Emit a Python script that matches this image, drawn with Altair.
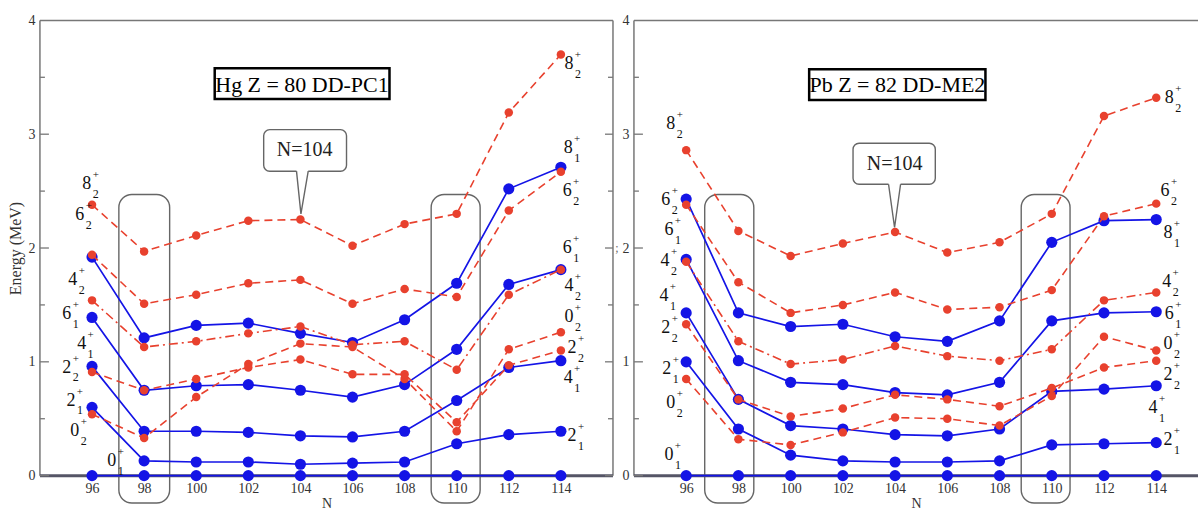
import altair as alt
import pandas as pd

# ---------------- data ----------------
N_VALUES = [96, 98, 100, 102, 104, 106, 108, 110, 112, 114]

# Hg Z = 80 (DD-PC1) -- solid blue (yrast)
HG_0_1 = [0.00, 0.00, 0.00, 0.00, 0.00, 0.00, 0.00, 0.00, 0.00, 0.00]
HG_2_1 = [0.60, 0.13, 0.12, 0.12, 0.10, 0.11, 0.12, 0.28, 0.36, 0.39]
HG_4_1 = [0.96, 0.39, 0.39, 0.38, 0.35, 0.34, 0.39, 0.66, 0.95, 1.01]
HG_6_1 = [1.39, 0.75, 0.79, 0.80, 0.75, 0.69, 0.80, 1.11, 1.68, 1.81]
HG_8_1 = [1.92, 1.21, 1.32, 1.34, 1.25, 1.17, 1.37, 1.69, 2.52, 2.71]
# Hg -- dashed red (second band)
HG_0_2 = [0.54, 0.33, 0.69, 0.98, 1.16, 1.13, 0.85, 0.39, 1.11, 1.26]
HG_2_2 = [0.91, 0.75, 0.85, 0.95, 1.02, 0.89, 0.89, 0.47, 0.97, 1.10]
HG_4_2 = [1.54, 1.13, 1.18, 1.25, 1.31, 1.15, 1.18, 0.93, 1.59, 1.81]
HG_6_2 = [1.94, 1.51, 1.59, 1.69, 1.72, 1.51, 1.64, 1.57, 2.33, 2.67]
HG_8_2 = [2.38, 1.97, 2.11, 2.24, 2.25, 2.02, 2.21, 2.30, 3.19, 3.70]

# Pb Z = 82 (DD-ME2)
PB_0_1 = [0.00, 0.00, 0.00, 0.00, 0.00, 0.00, 0.00, 0.00, 0.00, 0.00]
PB_2_1 = [1.00, 0.41, 0.18, 0.13, 0.12, 0.12, 0.13, 0.27, 0.28, 0.29]
PB_4_1 = [1.43, 0.67, 0.44, 0.41, 0.36, 0.35, 0.41, 0.74, 0.76, 0.79]
PB_6_1 = [1.90, 1.01, 0.82, 0.80, 0.73, 0.71, 0.82, 1.36, 1.43, 1.44]
PB_8_1 = [2.43, 1.43, 1.31, 1.33, 1.22, 1.18, 1.36, 2.05, 2.24, 2.25]
PB_0_2 = [0.85, 0.32, 0.27, 0.38, 0.51, 0.50, 0.44, 0.70, 1.22, 1.10]
PB_2_2 = [1.33, 0.67, 0.52, 0.59, 0.71, 0.67, 0.61, 0.77, 0.95, 1.01]
PB_4_2 = [1.88, 1.18, 0.98, 1.02, 1.14, 1.05, 1.01, 1.11, 1.54, 1.61]
PB_6_2 = [2.38, 1.70, 1.43, 1.50, 1.61, 1.46, 1.48, 1.63, 2.28, 2.39]
PB_8_2 = [2.86, 2.15, 1.93, 2.04, 2.14, 1.96, 2.05, 2.30, 3.16, 3.32]

# state labels: (spin, band index, N position, E position)
HG_LABELS = [
    ("8", "2", 95.80, 2.56), ("6", "2", 95.53, 2.29), ("4", "2", 95.26, 1.72),
    ("6", "1", 95.03, 1.42), ("4", "1", 95.60, 1.16), ("2", "2", 95.03, 0.95),
    ("2", "1", 95.19, 0.66), ("0", "2", 95.34, 0.39), ("0", "1", 96.76, 0.13),
    ("8", "2", 114.31, 3.62), ("8", "1", 114.28, 2.88), ("6", "2", 114.24, 2.50),
    ("6", "1", 114.24, 2.00), ("4", "2", 114.31, 1.67), ("0", "2", 114.31, 1.39),
    ("2", "2", 114.43, 1.12), ("4", "1", 114.28, 0.86), ("2", "1", 114.43, 0.35),
]
PB_LABELS = [
    ("8", "2", 95.41, 3.09), ("6", "2", 95.22, 2.42), ("6", "1", 95.34, 2.16),
    ("4", "2", 95.19, 1.89), ("4", "1", 95.15, 1.58), ("2", "2", 95.22, 1.30),
    ("2", "1", 95.26, 0.94), ("0", "2", 95.41, 0.64), ("0", "1", 95.34, 0.18),
    ("8", "2", 114.50, 3.32), ("6", "2", 114.34, 2.50), ("8", "1", 114.45, 2.13),
    ("4", "2", 114.40, 1.70), ("6", "1", 114.50, 1.42), ("0", "2", 114.45, 1.16),
    ("2", "2", 114.45, 0.88), ("4", "1", 113.88, 0.59), ("2", "1", 114.45, 0.31),
]

X_TICKS = [96, 98, 100, 102, 104, 106, 108, 110, 112, 114]
Y_MAJOR = [0, 1, 2, 3, 4]
Y_MINOR = [0.5, 1.5, 2.5, 3.5]

# ---------------- style ----------------
BLUE = "#1414e6"
RED = "#e8412e"
SERIF = "Liberation Serif"
FRAME = "#777777"


def long_df(named):
    rows = []
    for name, (vals, style) in named.items():
        for n, e in zip(N_VALUES, vals):
            rows.append({"N": n, "E": e, "state": name, "style": style})
    return pd.DataFrame(rows)


def panel(blue, red, labels, title, title_box, title_center, call_box, call_center,
          tail, rects, xmax, width, show_ytitle, right_frame):
    xs = alt.Scale(domain=[94, xmax], nice=False, zero=False)
    ys = alt.Scale(domain=[0, 4], nice=False, zero=False)
    height = 456

    blue_df = long_df(blue)
    red_df = long_df(red)

    xaxis = alt.Axis(values=X_TICKS, ticks=False, domain=False, grid=False, format="d",
                     labelPadding=6, title="N", titlePadding=1)
    yaxis = alt.Axis(values=Y_MAJOR, ticks=False, domain=False, grid=False, format="d",
                     labelPadding=5, title="Energy (MeV)" if show_ytitle else "",
                     titlePadding=4)

    def X(f):
        return alt.X(f, type="quantitative", scale=xs, axis=xaxis)

    def Y(f):
        return alt.Y(f, type="quantitative", scale=ys, axis=yaxis)

    layers = []

    # rounded frames around N=98 and N=110
    rdf = pd.DataFrame([{"x0": a, "x1": b, "y0": 2.47, "y1": -0.24} for a, b in rects])
    layers.append(alt.Chart(rdf).mark_rect(fillOpacity=0, stroke="#666666", strokeWidth=1.4,
                                           cornerRadius=13).encode(
        x=X("x0"), x2="x1", y=Y("y0"), y2="y1"))

    # frame
    fr = [{"x0": 94, "x1": xmax, "y0": 4, "y1": 4}, {"x0": 94, "x1": 94, "y0": 0, "y1": 4}]
    if right_frame:
        fr.append({"x0": xmax, "x1": xmax, "y0": 0, "y1": 4})
    layers.append(alt.Chart(pd.DataFrame(fr)).mark_rule(color=FRAME, strokeWidth=1.5).encode(
        x=X("x0"), x2="x1", y=Y("y0"), y2="y1"))
    layers.append(alt.Chart(pd.DataFrame([{"x0": 94, "x1": xmax, "y0": 0}])).mark_rule(
        color="#555566", strokeWidth=3).encode(x=X("x0"), x2="x1", y=Y("y0")))

    # inward ticks
    maj = pd.DataFrame({"v": Y_MAJOR[:-1]})
    mnr = pd.DataFrame({"v": Y_MINOR})
    layers.append(alt.Chart(maj).mark_rule(color=FRAME, strokeWidth=1.3).encode(
        y=Y("v"), x=alt.value(0), x2=alt.value(9)))
    layers.append(alt.Chart(mnr).mark_rule(color=FRAME, strokeWidth=1.3).encode(
        y=Y("v"), x=alt.value(0), x2=alt.value(5)))
    if right_frame:
        layers.append(alt.Chart(maj).mark_rule(color=FRAME, strokeWidth=1.3).encode(
            y=Y("v"), x=alt.value(width), x2=alt.value(width - 8)))
        layers.append(alt.Chart(mnr).mark_rule(color=FRAME, strokeWidth=1.3).encode(
            y=Y("v"), x=alt.value(width), x2=alt.value(width - 5)))
    else:
        # stray fragment of the neighbouring axis title seen in the source figure
        layers.append(alt.Chart(pd.DataFrame({"v": [2.0], "t": [";"]})).mark_text(
            font=SERIF, fontSize=12, color="#666666").encode(
            y=Y("v"), x=alt.value(-17), text="t:N"))

    # blue (solid) bands
    layers.append(alt.Chart(blue_df).mark_line(color=BLUE, strokeWidth=1.7).encode(
        x=X("N"), y=Y("E"), detail="state:N"))
    layers.append(alt.Chart(blue_df).mark_circle(color=BLUE, size=125, opacity=1).encode(
        x=X("N"), y=Y("E")))

    # red (dashed / dash-dot) bands
    layers.append(alt.Chart(red_df).mark_line(color=RED, strokeWidth=1.6).encode(
        x=X("N"), y=Y("E"), detail="state:N",
        strokeDash=alt.StrokeDash("style:N", legend=None,
                                  scale=alt.Scale(domain=["dash", "dashdot"],
                                                  range=[[8, 5], [9, 4, 2, 4]]))))
    layers.append(alt.Chart(red_df).mark_circle(color=RED, size=72, opacity=1).encode(
        x=X("N"), y=Y("E")))

    # state labels
    ldf = pd.DataFrame([{"spin": s, "band": b, "lx": x, "ly": y} for s, b, x, y in labels])
    layers.append(alt.Chart(ldf).mark_text(font=SERIF, fontSize=18, color="#111111").encode(
        x=X("lx"), y=Y("ly"), text="spin:N"))
    layers.append(alt.Chart(ldf).mark_text(font=SERIF, fontSize=11, color="#111111",
                                           dx=9, dy=-9).encode(
        x=X("lx"), y=Y("ly"), text=alt.value("+")))
    layers.append(alt.Chart(ldf).mark_text(font=SERIF, fontSize=12, color="#111111",
                                           dx=9, dy=10).encode(
        x=X("lx"), y=Y("ly"), text="band:N"))

    # title box
    tb = pd.DataFrame([{"x0": title_box[0], "x1": title_box[1], "y0": title_box[2], "y1": title_box[3],
                        "tx": title_center[0], "ty": title_center[1], "t": title}])
    layers.append(alt.Chart(tb).mark_rect(fill="white", stroke="black", strokeWidth=2.5).encode(
        x=X("x0"), x2="x1", y=Y("y0"), y2="y1"))
    layers.append(alt.Chart(tb).mark_text(font=SERIF, fontSize=22, color="black").encode(
        x=X("tx"), y=Y("ty"), text="t:N"))

    # N=104 callout
    cb = pd.DataFrame([{"x0": call_box[0], "x1": call_box[1], "y0": call_box[2], "y1": call_box[3],
                        "tx": call_center[0], "ty": call_center[1], "t": "N=104"}])
    layers.append(alt.Chart(cb).mark_rect(fill="white", stroke="#666666", strokeWidth=1.4,
                                          cornerRadius=6).encode(
        x=X("x0"), x2="x1", y=Y("y0"), y2="y1"))
    layers.append(alt.Chart(cb).mark_text(font=SERIF, fontSize=20, color="#222222").encode(
        x=X("tx"), y=Y("ty"), text="t:N"))
    gap = pd.DataFrame([{"x0": tail[0], "x1": tail[2], "y0": call_box[3]}])
    layers.append(alt.Chart(gap).mark_rule(color="white", strokeWidth=3).encode(
        x=X("x0"), x2="x1", y=Y("y0")))
    tdf = pd.DataFrame([{"x": tail[0], "y": call_box[3], "o": 0},
                        {"x": tail[1], "y": tail[3], "o": 1},
                        {"x": tail[2], "y": call_box[3], "o": 2}])
    layers.append(alt.Chart(tdf).mark_line(color="#666666", strokeWidth=1.4).encode(
        x=X("x"), y=Y("y"), order="o:Q"))

    return alt.layer(*layers).properties(width=width, height=height)


hg = panel(
    blue={"0_1": (HG_0_1, "solid"), "2_1": (HG_2_1, "solid"), "4_1": (HG_4_1, "solid"),
          "6_1": (HG_6_1, "solid"), "8_1": (HG_8_1, "solid")},
    red={"0_2": (HG_0_2, "dash"), "2_2": (HG_2_2, "dash"), "4_2": (HG_4_2, "dashdot"),
         "6_2": (HG_6_2, "dash"), "8_2": (HG_8_2, "dash")},
    labels=HG_LABELS, title="Hg Z = 80 DD-PC1",
    title_box=(100.71, 107.42, 3.58, 3.31), title_center=(104.06, 3.435),
    call_box=(102.59, 105.77, 3.04, 2.675), call_center=(104.16, 2.86),
    tail=(103.85, 104.02, 104.30, 2.30),
    rects=[(97.03, 98.98), (109.02, 110.90)],
    xmax=116, width=574, show_ytitle=True, right_frame=True)

pb = panel(
    blue={"0_1": (PB_0_1, "solid"), "2_1": (PB_2_1, "solid"), "4_1": (PB_4_1, "solid"),
          "6_1": (PB_6_1, "solid"), "8_1": (PB_8_1, "solid")},
    red={"0_2": (PB_0_2, "dash"), "2_2": (PB_2_2, "dash"), "4_2": (PB_4_2, "dashdot"),
         "6_2": (PB_6_2, "dash"), "8_2": (PB_8_2, "dash")},
    labels=PB_LABELS, title="Pb Z = 82 DD-ME2",
    title_box=(100.71, 107.46, 3.57, 3.30), title_center=(104.09, 3.43),
    call_box=(102.39, 105.54, 2.92, 2.56), call_center=(103.98, 2.74),
    tail=(103.75, 103.98, 104.21, 2.18),
    rects=[(96.71, 98.59), (108.83, 110.70)],
    xmax=115.6, width=565, show_ytitle=False, right_frame=False)

chart = alt.hconcat(hg, pb, spacing=21, bounds="flush").properties(
    padding={"left": 8, "top": 13, "right": 0, "bottom": 0},
    background="white",
).configure_view(strokeWidth=0).configure_axis(
    labelFont=SERIF, labelFontSize=14, labelColor="#333333",
    titleFont=SERIF, titleFontWeight="normal", titleColor="#333333",
).configure_axisY(titleFontSize=16).configure_axisX(titleFontSize=14)

chart.save("out.html", embed_options={"renderer": "svg", "actions": False})
